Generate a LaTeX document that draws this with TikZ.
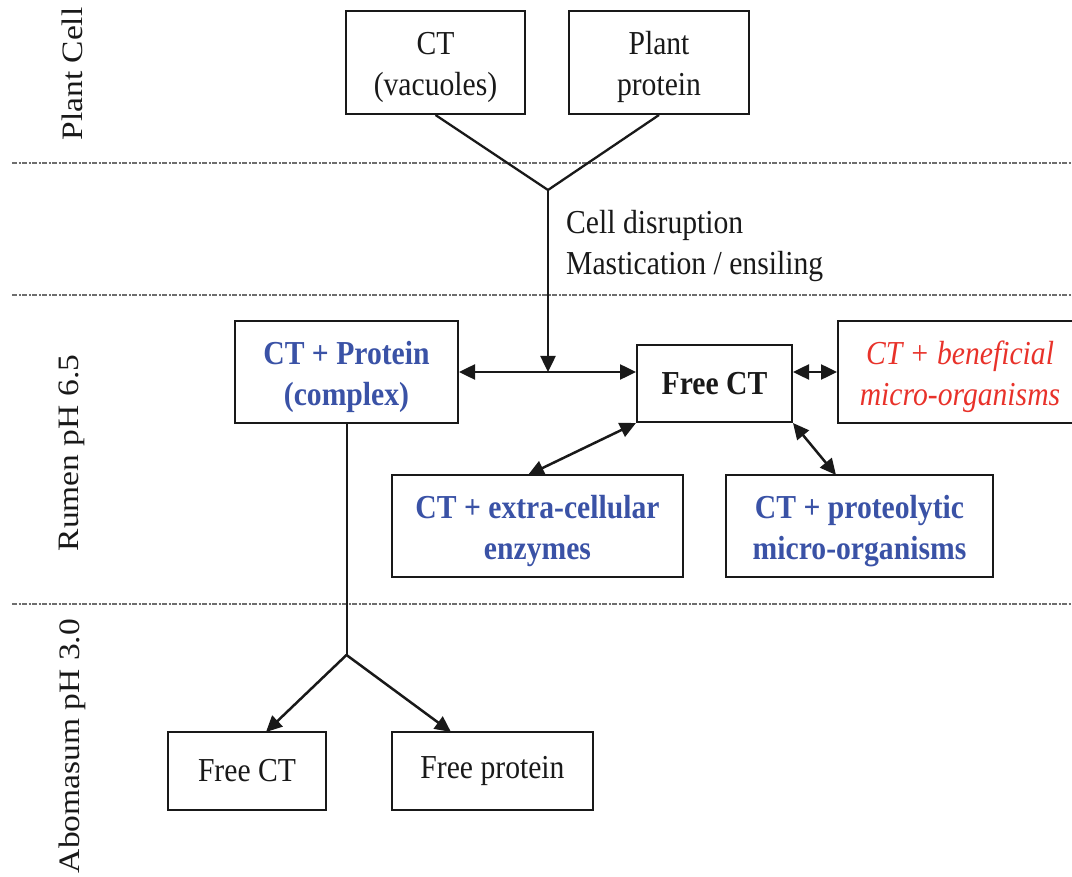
\documentclass[tikz,border=0pt]{standalone}
\usepackage{fontspec}
\setmainfont{Liberation Serif}
\usetikzlibrary{arrows.meta}
\definecolor{ctblue}{RGB}{58,82,166}
\definecolor{ctred}{RGB}{232,50,42}
\definecolor{sepgray}{RGB}{110,110,110}
\definecolor{ink}{RGB}{25,25,25}
\newcommand{\hs}[1]{\scalebox{0.885}[1]{#1}}
\newcommand{\vs}[1]{\scalebox{1}[0.885]{#1}}
\newcommand{\topstrut}{\rule{0pt}{33pt}}
\begin{document}
\begin{tikzpicture}[x=1pt,y=-1pt,
  txt/.style={font=\fontsize{33.5}{41}\selectfont, text=ink, inner sep=0pt},
  box/.style={txt, draw=ink, line width=2pt, align=center},
  bluebox/.style={box, text=ctblue, font=\fontsize{33.5}{41}\selectfont\bfseries},
  redbox/.style={box, text=ctred, font=\fontsize{33.5}{41}\selectfont\itshape},
  link/.style={draw=ink, line width=2.5pt},
  arr/.style={link, -{Triangle[length=16pt,width=15pt]}},
  darr/.style={link, {Triangle[length=16pt,width=15pt]}-{Triangle[length=16pt,width=15pt]}},
  sep/.style={draw=sepgray, line width=1.8pt, dash pattern=on 5pt off 1.5pt on 2pt off 1.5pt},
  side/.style={txt, rotate=90}
]
\useasboundingbox (0,0) rectangle (1072,877);
\clip (0,0) rectangle (1072,877);

% separators
\draw[sep] (12,163) -- (1072,163);
\draw[sep] (12,295) -- (1072,295);
\draw[sep] (12,604) -- (1072,604);

% side labels
\node[side] (l1) at (72,74) {\vs{Plant Cell}};
\node[side] (l2) at (72,453) {\vs{Rumen pH 6.5}};
\node[side] (l3) at (72,746) {\vs{Abomasum pH 3.0}};

% plant cell boxes
\node[box, minimum width=179, minimum height=103] (ct) at (435.5,62.5) {\topstrut\hs{CT}\\[0pt]\hs{(vacuoles)}};
\node[box, minimum width=180, minimum height=103] (pp) at (659,62.5) {\topstrut\hs{Plant}\\[0pt]\hs{protein}};

\coordinate (j1) at (548,190);
\draw[link, line width=2.3pt] (ct.south) -- (j1) -- (pp.south);

\node[txt, anchor=west, align=left] (proc) at (566,246) {\hs{Cell disruption}\\[0pt]\hs{Mastication / ensiling}};

% rumen boxes
\node[bluebox, minimum width=223, minimum height=102] (cp) at (346.5,372) {\topstrut\hs{CT + Protein}\\[0pt]\hs{(complex)}};
\node[box, font=\fontsize{33.5}{41}\selectfont\bfseries, minimum width=155, minimum height=77] (fct) at (714.5,383.5) {\hs{Free CT}};
\node[redbox, minimum width=244, minimum height=102] (ben) at (960,372) {\topstrut\hs{CT + beneficial}\\[0pt]\hs{micro-organisms}};
\node[bluebox, minimum width=291, minimum height=102] (ext) at (537.5,526) {\topstrut\hs{CT + extra-cellular}\\[0pt]\hs{enzymes}};
\node[bluebox, minimum width=267, minimum height=102] (pro) at (859.5,526) {\topstrut\hs{CT + proteolytic}\\[0pt]\hs{micro-organisms}};

\coordinate (m) at (j1 |- cp.east);
\draw[arr] (j1) -- (m);
\draw[darr] (cp.east) -- (cp.east -| fct.west);
\draw[darr] (fct.east |- ben.west) -- (ben.west);
\coordinate (e1) at (528,475);
\coordinate (e2) at (836,475);
\draw[darr] (fct.south west) -- (e1);
\draw[darr] (fct.south east) -- (e2);

% abomasum
\node[box, minimum width=158, minimum height=78] (fct2) at (247,771) {\hs{Free CT}};
\node[box, minimum width=201, minimum height=78] (fpr) at (492.5,771) {\hs{Free protein}};
\coordinate (j2) at (346.5,655);
\coordinate (t1) at (266,732);
\coordinate (t2) at (451,732);
\draw[link, line width=2pt] (cp.south) -- (j2);
\draw[arr] (j2) -- (t1);
\draw[arr] (j2) -- (t2);
\end{tikzpicture}
\end{document}
